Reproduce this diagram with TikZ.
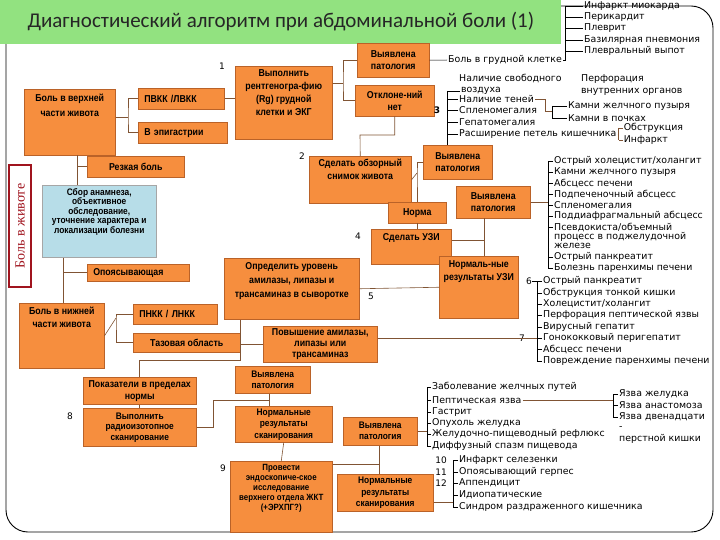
\documentclass[tikz,border=0pt]{standalone}
\usepackage{fontspec}
\setmainfont{Liberation Sans}
\newfontfamily\titlefont{Carlito}
\newfontfamily\listfont{DejaVu Sans}
\newfontfamily\labelfont{Liberation Serif}
\newfontfamily\boxfont[FakeStretch=0.88]{Liberation Sans}
\usetikzlibrary{positioning}
\definecolor{boxorange}{RGB}{246,142,62}
\definecolor{boxedge}{RGB}{186,98,40}
\definecolor{paleblue}{RGB}{183,221,232}
\definecolor{titlegreen}{RGB}{146,226,128}
\definecolor{linkbrown}{RGB}{128,84,52}
\definecolor{darkred}{RGB}{160,20,30}

\begin{document}
\begin{tikzpicture}[
  x=1pt, y=-1pt,
  box/.style={draw=boxedge, fill=boxorange, line width=0.5pt, anchor=north west, align=center, inner sep=1pt, font=\boxfont\fontsize{10}{12}\selectfont\bfseries},
  lbox/.style={box, align=left, inner xsep=6pt},
  bluebox/.style={box, fill=paleblue, draw=gray!70},
  boxtext/.style={align=center, inner sep=2pt, font=\boxfont\fontsize{10}{13}\selectfont\bfseries},
  link/.style={draw=linkbrown, line width=0.6pt},
  tick/.style={draw=black, line width=0.5pt},
  item/.style={anchor=west, align=left, inner sep=1pt, font=\listfont\fontsize{9.4}{11.5}\selectfont},
  num/.style={inner sep=0pt, font=\listfont\fontsize{9}{10}\selectfont},
  redbox/.style={draw=darkred, line width=1.6pt, fill=white, rotate=90, minimum width=122pt, minimum height=22pt, inner sep=0pt, text=darkred, font=\labelfont\fontsize{14}{16}\selectfont}
]
\useasboundingbox (0,0) rectangle (720,540);

% frame and title
\draw[line width=0.9pt, rounded corners=22pt] (6,6) rectangle (713,532);
\fill[titlegreen] (0,0) rectangle (561,44);
\node[anchor=west, text=black!85, font=\titlefont\fontsize{21}{25}\selectfont] (title) at (24,22) {Диагностический алгоритм при абдоминальной боли (1)};
\node[redbox] (pain) at (20,226) {Боль в животе};

% boxes, upper part
\node[box, minimum width=91pt, minimum height=66pt] (upper) at (24,89) {};
\node[boxtext, below=3pt of upper.north, font=\boxfont\fontsize{10}{15}\selectfont\bfseries] (upper-t) {Боль в верхней\\части живота};
\node[lbox, text width=74pt, minimum height=21pt] (ruq) at (138,88) {ПВКК /ЛВКК};
\node[lbox, text width=77pt, minimum height=21pt] (epi) at (138,122) {В эпигастрии};
\node[box, minimum width=97pt, minimum height=73pt] (xray) at (235,66) {};
\node[boxtext, below=1pt of xray.north] (xray-t) {Выполнить\\рентгеногра-фию\\(Rg) грудной\\клетки и ЭКГ};
\node[box, minimum width=72pt, minimum height=34pt] (path1) at (357,43) {Выявлена\\патология};
\node[box, minimum width=79pt, minimum height=31pt] (nodev) at (355,85) {Отклоне-ний\\нет};
\node[box, minimum width=102pt, minimum height=47pt] (plain) at (309,156) {};
\node[boxtext, below=1pt of plain.north] (plain-t) {Сделать обзорный\\снимок живота};
\node[box, minimum width=69pt, minimum height=34pt] (path2) at (423,145) {Выявлена\\патология};
\node[box, minimum width=58pt, minimum height=21pt] (norm) at (388,202) {Норма};
\node[box, minimum width=80pt, minimum height=35pt] (us) at (371,229) {};
\node[boxtext, below=2pt of us.north] (us-t) {Сделать УЗИ};
\node[box, minimum width=74pt, minimum height=32pt] (path3) at (456,186) {Выявлена\\патология};
\node[box, minimum width=79pt, minimum height=62pt] (usok) at (439,256) {};
\node[boxtext, below=2pt of usok.north] (usok-t) {Нормаль-ные\\результаты УЗИ};

% boxes, lower part
\node[box, minimum width=135pt, minimum height=61pt] (enz) at (224,258) {};
\node[boxtext, below=2pt of enz.north, font=\boxfont\fontsize{10}{14}\selectfont\bfseries] (enz-t) {Определить уровень\\амилазы, липазы и\\трансаминаз в сыворотке};
\node[box, minimum width=114pt, minimum height=36pt, font=\boxfont\fontsize{10}{11}\selectfont\bfseries] (enzup) at (263,326) {Повышение амилазы,\\липазы или\\трансаминаз};
\node[box, minimum width=113pt, minimum height=27pt] (enzok) at (83,377) {Показатели в пределах\\нормы};
\node[box, minimum width=113pt, minimum height=38pt, font=\boxfont\fontsize{9.5}{10.5}\selectfont\bfseries] (scan) at (83,408) {Выполнить\\радиоизотопное\\сканирование};
\node[box, minimum width=75pt, minimum height=27pt, font=\boxfont\fontsize{9.5}{10.5}\selectfont\bfseries] (path4) at (235,366) {Выявлена\\патология};
\node[box, minimum width=97pt, minimum height=36pt, font=\boxfont\fontsize{9.5}{11.5}\selectfont\bfseries] (scanok) at (235,406) {Нормальные\\результаты\\сканирования};
\node[box, minimum width=102pt, minimum height=71pt] (endo) at (230,461) {};
\node[boxtext, below=1pt of endo.north, font=\boxfont\fontsize{9}{10}\selectfont\bfseries] (endo-t) {Провести\\эндоскопиче-ское\\исследование\\верхнего отдела ЖКТ\\(+ЭРХПГ?)};
\node[box, minimum width=74pt, minimum height=28pt, font=\boxfont\fontsize{9.5}{11}\selectfont\bfseries] (path5) at (343,417) {Выявлена\\патология};
\node[box, minimum width=96pt, minimum height=37pt, font=\boxfont\fontsize{9.5}{11.5}\selectfont\bfseries] (scanok2) at (337,474) {Нормальные\\результаты\\сканирования};

% boxes, left part
\node[box, minimum width=97pt, minimum height=21pt] (sharp) at (87,156) {Резкая боль};
\node[bluebox, minimum width=114pt, minimum height=72pt] (hist) at (42,185) {};
\node[boxtext, below=1pt of hist.north, font=\boxfont\fontsize{9.5}{9.5}\selectfont\bfseries] (hist-t) {Сбор анамнеза,\\объективное\\обследование,\\уточнение характера и\\локализации болезни};
\node[lbox, text width=90pt, minimum height=17pt] (girdle) at (87,264) {Опоясывающая};
\node[box, minimum width=85pt, minimum height=65pt] (lower) at (19,303) {};
\node[boxtext, below=2pt of lower.north] (lower-t) {Боль в нижней\\части живота};
\node[lbox, text width=72pt, minimum height=20pt] (rlq) at (133,304) {ПНКК / ЛНКК};
\node[box, minimum width=107pt, minimum height=19pt] (pelvis) at (133,333) {Тазовая область};

% text lists
\node[item] (chest) at (447,60) {Боль в грудной клетке};
\node[item] (c1) at (583,6) {Инфаркт миокарда};
\node[item] (c2) at (583,17) {Перикардит};
\node[item] (c3) at (583,28) {Плеврит};
\node[item] (c4) at (583,40) {Базилярная пневмония};
\node[item] (c5) at (583,51) {Плевральный выпот};
\coordinate (cspine) at (565,0);

\node[item] (f1) at (458,79) {Наличие свободного};
\node[item] (f2) at (460,91) {воздуха};
\node[item] (f3) at (458,99) {Наличие теней};
\node[item] (f4) at (458,110) {Спленомегалия};
\node[item] (f5) at (458,122) {Гепатомегалия};
\node[item] (f6) at (458,134) {Расширение петель кишечника};
\node[item] (perf) at (580,85) {Перфорация\\внутренних органов};
\coordinate (fspine) at (447,0);
\node[item] (st1) at (567,106) {Камни желчного пузыря};
\node[item] (st2) at (567,118) {Камни в почках};
\coordinate (stj) at (545,111);
\coordinate (stspine) at (552,0);
\coordinate (obspine) at ([xshift=1pt]f6.east);
\coordinate (ob1p) at (obspine |- 0,128);
\coordinate (ob2p) at (obspine |- 0,140);
\node[item] (ob1) at ([xshift=4pt]ob1p) {Обструкция};
\node[item] (ob2) at ([xshift=4pt]ob2p) {Инфаркт};

\node[item] (u1) at (553,161) {Острый холецистит/холангит};
\node[item] (u2) at (553,172) {Камни желчного пузыря};
\node[item] (u3) at (553,183) {Абсцесс печени};
\node[item] (u4) at (553,194) {Подпеченочный абсцесс};
\node[item] (u5) at (553,205) {Спленомегалия};
\node[item] (u6) at (553,216) {Поддиафрагмальный абсцесс};
\node[item] (u7) at (553,227) {Псевдокиста/объемный};
\node[item] (u7b) at (553,236.5) {процесс в поджелудочной};
\node[item] (u7c) at (553,246) {железе};
\node[item] (u8) at (553,257) {Острый панкреатит};
\node[item] (u9) at (553,268) {Болезнь паренхимы печени};
\coordinate (uspine) at (548,0);

\node[item] (e1) at (542,281) {Острый панкреатит};
\node[item] (e2) at (542,293) {Обструкция тонкой кишки};
\node[item] (e3) at (542,304) {Холецистит/холангит};
\node[item] (e4) at (542,315) {Перфорация пептической язвы};
\node[item] (e5) at (542,327) {Вирусный гепатит};
\node[item] (e6) at (542,338) {Гонококковый перигепатит};
\node[item] (e7) at (542,349) {Абсцесс печени};
\node[item] (e8) at (542,361) {Повреждение паренхимы печени};
\coordinate (espine) at (537,0);

\node[item] (s1) at (431,387) {Заболевание желчных путей};
\node[item] (s2) at (431,400) {Пептическая язва};
\node[item] (s3) at (431,412) {Гастрит};
\node[item] (s4) at (431,423) {Опухоль желудка};
\node[item] (s5) at (431,434) {Желудочно-пищеводный рефлюкс};
\node[item] (s6) at (431,446) {Диффузный спазм пищевода};
\coordinate (sspine) at (427,0);
\node[item] (z1) at (618,394) {Язва желудка};
\node[item] (z2) at (618,405) {Язва анастомоза};
\node[item] (z3) at (618,417) {Язва двенадцати};
\node[item] (z4) at (618,428) {-};
\node[item] (z5) at (618,439) {перстной кишки};
\coordinate (zspine) at (613,0);

\node[item] (t1) at (458,460) {Инфаркт селезенки};
\node[item] (t2) at (458,472) {Опоясывающий герпес};
\node[item] (t3) at (458,483) {Аппендицит};
\node[item] (t4) at (458,495) {Идиопатические};
\node[item] (t5) at (458,507) {Синдром раздраженного кишечника};
\coordinate (tspine) at (453,0);

% step numbers
\node[num] (n1) at (222,66) {1};
\node[num] (n2) at (302,156) {2};
\node[num, font=\listfont\bfseries\fontsize{9}{10}\selectfont] (n3) at (437,110) {3};
\node[num] (n4) at (358,236) {4};
\node[num] (n5) at (371,296) {5};
\node[num] (n6) at (529,281) {6};
\node[num] (n7) at (522,338) {7};
\node[num] (n8) at (70,416) {8};
\node[num] (n9) at (223,468) {9};
\node[num] (n10) at (441,460) {10};
\node[num] (n11) at (441,472) {11};
\node[num] (n12) at (441,483) {12};

% connectors between boxes
\coordinate (jup) at (128,117);
\draw[link] (upper.east |- jup) -- (jup);
\draw[link] (ruq.west) -| (jup) |- (epi.west);
\draw[link] (ruq.east) -- (ruq.east -| xray.west);
\coordinate (jxr) at (343,83);
\draw[link] (xray.east |- jxr) -- (jxr);
\draw[link] (path1.west) -| (jxr) |- (nodev.west);
\draw[tick] (path1.east) -- (chest.west);
\coordinate (jnd) at (360,135);
\draw[link] (nodev.south) |- (jnd) -- (plain.north);
\coordinate (jpl) at (417,173);
\draw[link] (plain.east) -- (jpl);
\draw[link] (path2.west) -| (jpl) -- (jpl |- norm.north);
\draw[link] (jpl |- norm.south) -- (jpl |- us.north);
\coordinate (jus) at (484,240);
\draw[link] (us.east |- jus) -- (jus);
\draw[link] (jus |- path3.south) -- (jus |- usok.north);
\draw[link] (enz.east) -- (usok.west);
\coordinate (jen) at (240,360);
\draw[link] (jen |- enz.south) -- (jen) -| (enzok.north);
\draw[link] (jen |- enzup.west) -- (enzup.west);
\draw[link] (enzok.south) -- (scan.north);
\coordinate (jsc) at (213,400);
\coordinate (jsc2) at (269,400);
\draw[link] (scan.east) -| (jsc) -- (jsc2);
\draw[link] (jsc2 |- path4.south) -- (jsc2 |- scanok.north);
\draw[link] (scanok.south) -- (endo.north);
\coordinate (jen2) at (379,464);
\draw[link] (endo.east |- jen2) -- (jen2);
\draw[link] (jen2 |- path5.south) -- (jen2 |- scanok2.north);
\coordinate (jleft) at (77,167);
\draw[link] (jleft |- upper.south) -- (jleft |- hist.north);
\draw[link] (jleft |- sharp.west) -- (sharp.west);
\coordinate (jhist) at (63,272);
\draw[link] (jhist |- hist.south) -- (jhist |- lower.north);
\draw[link] (jhist |- girdle.west) -- (girdle.west);
\coordinate (jlow) at (116,318);
\draw[link] (lower.east) -- (jlow);
\draw[link] (rlq.west) -| (jlow) |- (pelvis.west);

% connectors to the lists
\draw[tick] (chest.east) -- (chest.east -| cspine) -- (c1.west -| cspine);
\foreach \n in {c1,c2,c3,c4,c5} \draw[tick] (\n.west) -- (\n.west -| cspine);
\draw[tick] (f2.west -| fspine) -- (fspine |- path2.north);
\foreach \n in {f2,f3,f4,f5,f6} \draw[tick] (\n.west) -- (\n.west -| fspine);
\draw[link] (f3.east) -| (stj) -- (stj -| stspine);
\draw[tick] (st1.west -| stspine) -- (st2.west -| stspine);
\foreach \n in {st1,st2} \draw[tick] (\n.west) -- (\n.west -| stspine);
\draw[link] (f6.east) -- (obspine);
\draw[link] (ob1.west -| obspine) -- (ob2.west -| obspine);
\foreach \n in {ob1,ob2} \draw[link] (\n.west) -- (\n.west -| obspine);
\draw[link] (path3.east) -- (path3.east -| uspine);
\draw[tick] (u1.west -| uspine) -- (u9.west -| uspine);
\foreach \n in {u1,u2,u3,u4,u5,u6,u7,u8,u9} \draw[tick] (\n.west) -- (\n.west -| uspine);
\draw[tick] (e1.west -| espine) -- (e8.west -| espine);
\foreach \n in {e1,e2,e3,e4,e5,e6,e7,e8} \draw[tick] (\n.west) -- (\n.west -| espine);
\draw[tick] (n6.east) -- (e1.west -| espine);
\draw[link] (enzup.east |- e6.west) -- (e6.west -| espine);
\draw[link] (path5.east) -- (path5.east -| sspine);
\draw[tick] (s1.west -| sspine) -- (s6.west -| sspine);
\foreach \n in {s1,s2,s3,s4,s5,s6} \draw[tick] (\n.west) -- (\n.west -| sspine);
\draw[link] (s2.east) -- (s2.east -| zspine);
\draw[tick] (z1.west -| zspine) -- (z3.west -| zspine);
\foreach \n in {z1,z2,z3} \draw[tick] (\n.west) -- (\n.west -| zspine);
\draw[link] ([yshift=-10pt]scanok2.east) -- ([yshift=-10pt]scanok2.east -| tspine);
\draw[tick] (t1.west -| tspine) -- (t5.west -| tspine);
\foreach \n in {t1,t2,t3,t4,t5} \draw[tick] (\n.west) -- (\n.west -| tspine);
\end{tikzpicture}
\end{document}
